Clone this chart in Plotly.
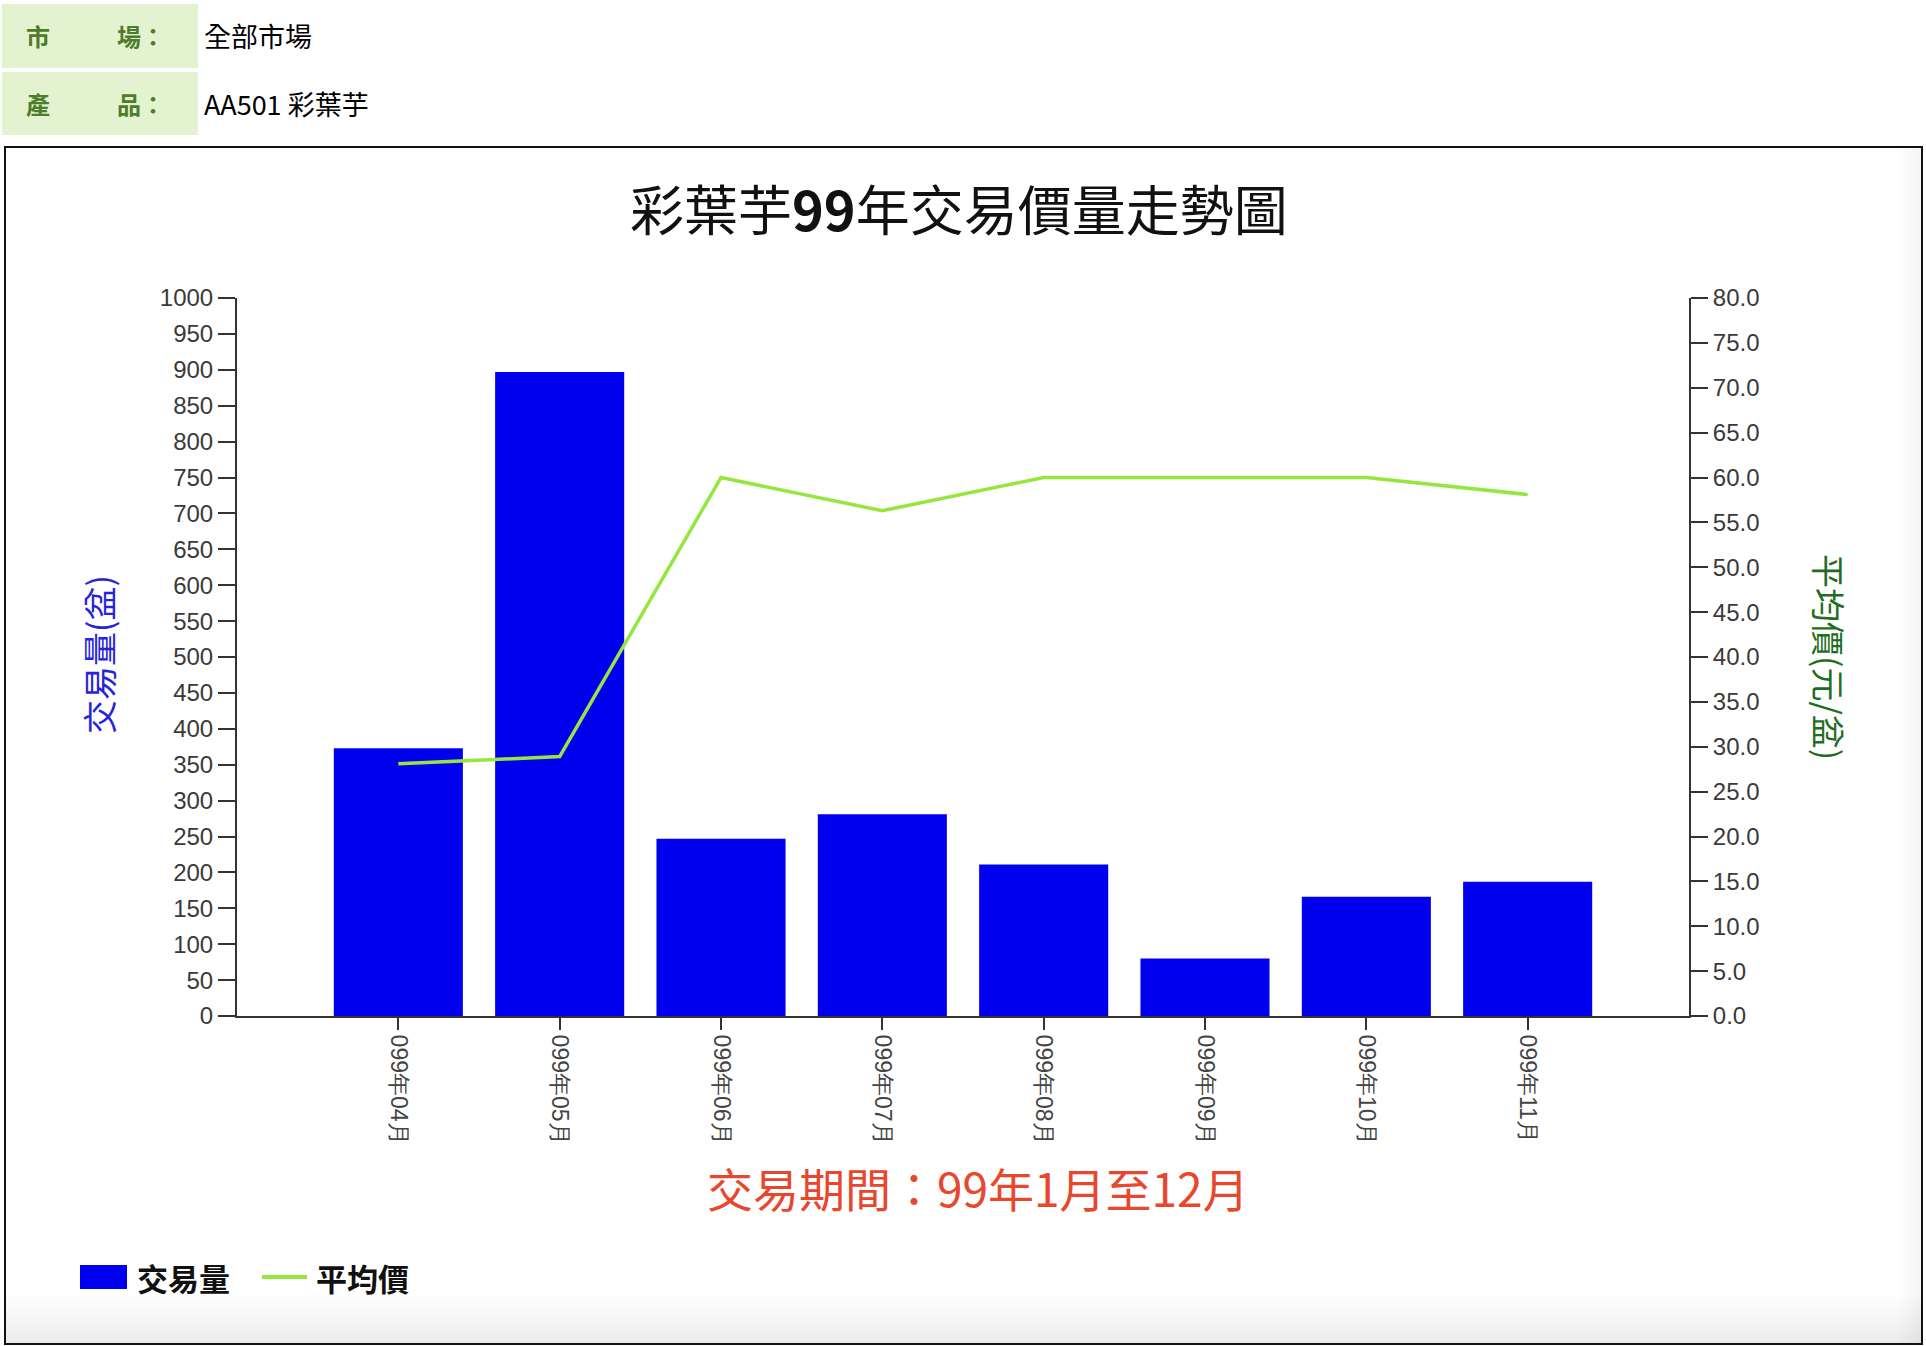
import plotly.graph_objects as go

# ---- data ----
months = ["099年04月", "099年05月", "099年06月", "099年07月",
          "099年08月", "099年09月", "099年10月", "099年11月"]
volume = [373, 897, 247, 281, 211, 80, 166, 187]          # 交易量(盆)
avg_price = [28.1, 28.9, 60.0, 56.3, 60.0, 60.0, 60.0, 58.1]  # 平均價(元/盆)

title_text = "彩葉芋<b>99</b>年交易價量走勢圖"
period_text = "交易期間：99年1月至12月"
market_label = ["市", "場："]
product_label = ["產", "品："]
market_value = "全部市場"
product_value = "AA501 彩葉芋"

W, H = 1926, 1346
L, R, T, B = 237, 1689, 298, 1016   # plot area in pixels


def px(x):
    return (x - L) / (R - L)


def py(y):
    return (B - y) / (B - T)


CJK = "Noto Sans CJK TC"
ARIAL = "Arial, Liberation Sans, sans-serif"

fig = go.Figure()
fig.add_trace(go.Bar(x=months, y=volume, name="交易量", marker=dict(color="#0000EE", line=dict(width=0)),
                     width=0.8, yaxis="y"))
fig.add_trace(go.Scatter(x=months, y=avg_price, name="平均價", mode="lines",
                         line=dict(color="#96E640", width=3.5), yaxis="y2"))

shapes = []
ann = []

# header cells
for (y0, y1) in [(4, 68), (72, 135)]:
    shapes.append(dict(type="rect", xref="paper", yref="paper", x0=px(2), x1=px(198), y0=py(y1), y1=py(y0),
                       fillcolor="#E3F2CF", line=dict(width=0), layer="below"))
for (labels, value, yc) in [(market_label, market_value, 36), (product_label, product_value, 103)]:
    ann.append(dict(text=labels[0], x=px(24), y=py(yc), xref="paper", yref="paper", xanchor="left",
                    yanchor="middle", showarrow=False, font=dict(family=CJK, size=24, color="#4E7B2C", weight="bold")))
    ann.append(dict(text=labels[1], x=px(115), y=py(yc), xref="paper", yref="paper", xanchor="left",
                    yanchor="middle", showarrow=False, font=dict(family=CJK, size=24, color="#4E7B2C", weight="bold")))
    ann.append(dict(text=value, x=px(202), y=py(yc), xref="paper", yref="paper", xanchor="left",
                    yanchor="middle", showarrow=False, font=dict(family=CJK, size=27, color="#000000")))

# chart box shading + border
for i in range(10):
    shapes.append(dict(type="rect", xref="paper", yref="paper", x0=px(6), x1=px(1922),
                       y0=py(1344), y1=py(1296 + i * 5), fillcolor="rgba(0,0,0,0.007)",
                       line=dict(width=0), layer="below"))
for i in range(5):
    shapes.append(dict(type="rect", xref="paper", yref="paper", x0=px(1900 + i * 4), x1=px(1922),
                       y0=py(1344), y1=py(148), fillcolor="rgba(0,0,0,0.006)",
                       line=dict(width=0), layer="below"))
shapes.append(dict(type="rect", xref="paper", yref="paper", x0=px(5), x1=px(1922), y0=py(1344), y1=py(147),
                   line=dict(color="#111111", width=2), fillcolor="rgba(0,0,0,0)"))

# title / subtitle
ann.append(dict(text=title_text, x=px(959), y=py(208), xref="paper", yref="paper", xanchor="center",
                yanchor="middle", showarrow=False, font=dict(family=CJK, size=54, color="#111111")))
ann.append(dict(text=period_text, x=px(978), y=py(1187), xref="paper", yref="paper", xanchor="center",
                yanchor="middle", showarrow=False, font=dict(family=CJK, size=46, color="#E8472D")))

# axis titles
ann.append(dict(text="交易量(盆)", x=px(98), y=py(655), xref="paper", yref="paper", xanchor="center",
                yanchor="middle", textangle=-90, showarrow=False, font=dict(family=CJK, size=34, color="#2424DC")))
ann.append(dict(text="平均價(元/盆)", x=px(1830), y=py(657), xref="paper", yref="paper", xanchor="center",
                yanchor="middle", textangle=90, showarrow=False, font=dict(family=CJK, size=34, color="#1F6E1F")))

# legend
shapes.append(dict(type="rect", xref="paper", yref="paper", x0=px(80), x1=px(127), y0=py(1289), y1=py(1265),
                   fillcolor="#0000EE", line=dict(width=0)))
shapes.append(dict(type="line", xref="paper", yref="paper", x0=px(262), x1=px(307), y0=py(1277), y1=py(1277),
                   line=dict(color="#96E640", width=4)))
ann.append(dict(text="交易量", x=px(135), y=py(1277), xref="paper", yref="paper", xanchor="left",
                yanchor="middle", showarrow=False, font=dict(family=CJK, size=31, color="#111111", weight="bold")))
ann.append(dict(text="平均價", x=px(314), y=py(1277), xref="paper", yref="paper", xanchor="left",
                yanchor="middle", showarrow=False, font=dict(family=CJK, size=31, color="#111111", weight="bold")))

tickfont = dict(family=ARIAL, size=24, color="#3A3A3A")
fig.update_layout(
    width=W, height=H, autosize=False,
    margin=dict(l=L, r=W - R, t=T, b=H - B, pad=0),
    paper_bgcolor="white", plot_bgcolor="white",
    showlegend=False, bargap=0.2,
    shapes=shapes, annotations=ann,
    xaxis=dict(type="category", range=[-1, 8], showgrid=False, zeroline=False,
               showline=True, linecolor="#333333", linewidth=2,
               ticks="outside", ticklen=12, tickwidth=1.5, tickcolor="#333333",
               tickangle=90, tickfont=dict(family=ARIAL, size=23, color="#444444")),
    yaxis=dict(range=[0, 1000], dtick=50, tick0=0, showgrid=False, zeroline=False,
               showline=True, linecolor="#333333", linewidth=2,
               ticks="outside", ticklen=17, tickwidth=1.5, tickcolor="#333333",
               tickfont=tickfont),
    yaxis2=dict(range=[0, 80], dtick=5, tick0=0, overlaying="y", side="right", anchor="x",
                showgrid=False, zeroline=False, tickformat=".1f",
                showline=True, linecolor="#333333", linewidth=2,
                ticks="outside", ticklen=17, tickwidth=1.5, tickcolor="#333333",
                tickfont=tickfont),
)

fig.write_html("out.html")
